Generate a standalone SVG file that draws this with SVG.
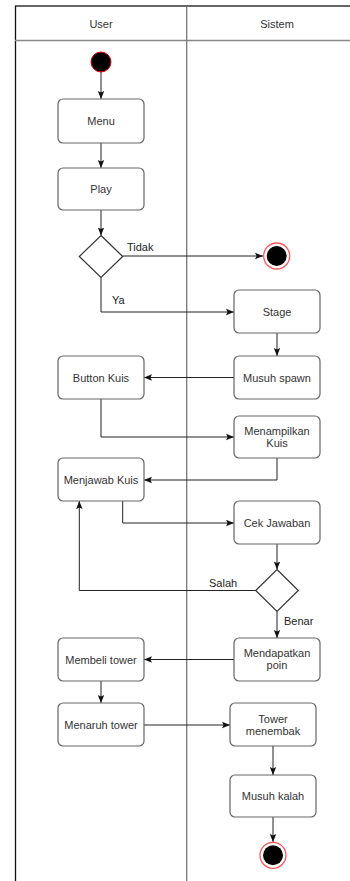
<svg xmlns="http://www.w3.org/2000/svg" width="350" height="881" viewBox="0 0 350 881">
<defs>
<marker id="ah" viewBox="0 0 10 10" refX="10" refY="5" markerWidth="8" markerHeight="8" markerUnits="userSpaceOnUse" orient="auto">
<path d="M0,1 L10,5 L0,9 L2,5 Z" fill="#111"/>
</marker>
<style>
.box{fill:#fff;stroke:#666;stroke-width:1.2}
.t{font-family:"Liberation Sans",Arial,sans-serif;font-size:11px;fill:#333;text-anchor:middle;dominant-baseline:central}
.lbl{font-family:"Liberation Sans",Arial,sans-serif;font-size:11px;fill:#222}
.c{fill:none;stroke:#222;stroke-width:1;marker-end:url(#ah)}
.cn{fill:none;stroke:#222;stroke-width:1}
.dia{fill:#fff;stroke:#333;stroke-width:1.2}
.start{fill:#000;stroke:#e00;stroke-width:1}
.endo{fill:#fff;stroke:#f55;stroke-width:1.3}
</style>
</defs>
<rect width="350" height="881" fill="#fff"/>
<g id="pool">
<line x1="15" y1="6" x2="350" y2="6" stroke="#333" stroke-width="1.3"/>
<line x1="15.5" y1="6" x2="15.5" y2="881" stroke="#111" stroke-width="1.3"/>
<line x1="15" y1="40.5" x2="350" y2="40.5" stroke="#888" stroke-width="1.3"/>
<line x1="186.7" y1="6" x2="186.7" y2="881" stroke="#777" stroke-width="1.3"/>
<text class="t" x="101" y="24">User</text>
<text class="t" x="277" y="24">Sistem</text>
</g>
<g id="connectors">
<path class="c" d="M101,72 V99"/>
<path class="c" d="M101,143 V168"/>
<path class="c" d="M101,210 V235.5"/>
<path class="c" d="M122.7,256 H263"/>
<path class="c" d="M101,277.5 V312 H234"/>
<path class="c" d="M277,333 V356"/>
<path class="c" d="M234,377.5 H144"/>
<path class="c" d="M101,399 V437 H234"/>
<path class="c" d="M277,458 V480 H144"/>
<path class="c" d="M122.7,501 V523 H234"/>
<path class="c" d="M277,544 V569.5"/>
<path class="c" d="M256,590.5 H79.3 V501"/>
<path class="c" d="M277,611.5 V638"/>
<path class="c" d="M234,659.5 H144"/>
<path class="c" d="M101,681 V703"/>
<path class="c" d="M144,725 H230"/>
<path class="c" d="M273,746 V775"/>
<path class="c" d="M273,817 V842"/>
<text class="lbl" x="127" y="251">Tidak</text>
<text class="lbl" x="112" y="304">Ya</text>
<text class="lbl" x="209" y="587">Salah</text>
<text class="lbl" x="284" y="625">Benar</text>
</g>
<g id="start"><circle class="start" cx="101" cy="62" r="10"/></g>
<g id="menu"><rect class="box" x="58" y="99" width="86" height="44" rx="5"/><text class="t" x="101" y="121">Menu</text></g>
<g id="play"><rect class="box" x="58" y="168" width="86" height="42" rx="5"/><text class="t" x="101" y="189">Play</text></g>
<g id="dec1"><path class="dia" d="M101,235.5 L122.7,256.5 L101,277.5 L79.3,256.5 Z"/></g>
<g id="end1"><circle class="endo" cx="276.7" cy="256" r="13"/><circle cx="276.7" cy="256" r="10" fill="#000"/></g>
<g id="stage"><rect class="box" x="234" y="290" width="86" height="43" rx="5"/><text class="t" x="277" y="312">Stage</text></g>
<g id="musuh-spawn"><rect class="box" x="234" y="356" width="86" height="43" rx="5"/><text class="t" x="277" y="377.5">Musuh spawn</text></g>
<g id="button-kuis"><rect class="box" x="58" y="356" width="86" height="43" rx="5"/><text class="t" x="101" y="377.5">Button Kuis</text></g>
<g id="menampilkan"><rect class="box" x="234" y="416" width="86" height="42" rx="5"/><text class="t" x="277" y="431">Menampilkan</text><text class="t" x="277" y="443">Kuis</text></g>
<g id="menjawab"><rect class="box" x="58" y="458" width="86" height="43" rx="5"/><text class="t" x="101" y="480">Menjawab Kuis</text></g>
<g id="cek"><rect class="box" x="234" y="501" width="86" height="43" rx="5"/><text class="t" x="277" y="522.5">Cek Jawaban</text></g>
<g id="dec2"><path class="dia" d="M277,569.5 L298.3,590.5 L277,611.5 L255.7,590.5 Z"/></g>
<g id="mendapatkan"><rect class="box" x="234" y="638" width="86" height="43" rx="5"/><text class="t" x="277" y="653">Mendapatkan</text><text class="t" x="277" y="665">poin</text></g>
<g id="membeli"><rect class="box" x="58" y="638" width="86" height="43" rx="5"/><text class="t" x="101" y="659.5">Membeli tower</text></g>
<g id="menaruh"><rect class="box" x="58" y="703" width="86" height="43" rx="5"/><text class="t" x="101" y="725">Menaruh tower</text></g>
<g id="tower-menembak"><rect class="box" x="230" y="703" width="86" height="43" rx="5"/><text class="t" x="273" y="719">Tower</text><text class="t" x="273" y="731">menembak</text></g>
<g id="musuh-kalah"><rect class="box" x="230" y="775" width="86" height="42" rx="5"/><text class="t" x="273" y="796">Musuh kalah</text></g>
<g id="end2"><circle class="endo" cx="273" cy="855.3" r="13"/><circle cx="273" cy="855.3" r="10" fill="#000"/></g>
</svg>
